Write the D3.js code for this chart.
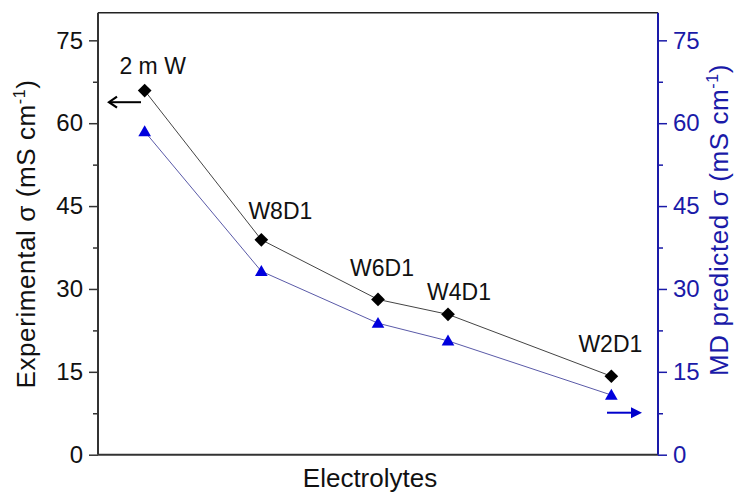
<!DOCTYPE html>
<html>
<head>
<meta charset="utf-8">
<script src="https://cdn.jsdelivr.net/npm/d3@7"></script>
<style>
  html, body { margin: 0; padding: 0; background: #fff; }
  svg { display: block; font-family: "Liberation Sans", Arial, sans-serif; }
</style>
</head>
<body>
<svg id="chart" width="741" height="495"></svg>
<script>
// Electrolyte compositions along the x axis (position in arbitrary units)
const electrolytes = ["2 m W", "W8D1", "W6D1", "W4D1", "W2D1"];
const xPos = [1, 2, 3, 3.6, 5];
// Measured conductivity (mS cm-1)
const experimental = [65.9, 38.9, 28.1, 25.4, 14.2];
// MD predicted conductivity (mS cm-1)
const predicted = [58.5, 33.2, 23.8, 20.6, 10.8];
const yTicks = [0, 15, 30, 45, 60, 75];
const yMinor = [7.5, 22.5, 37.5, 52.5, 67.5];

const svg = d3.select("#chart");
const m = { left: 98, right: 658, top: 12.7, bottom: 454.7 };
const blue = "#1a1aa8";

const x = d3.scaleLinear().domain([0.6, 5.4]).range([m.left, m.right]);
const y = d3.scaleLinear().domain([0, 80]).range([m.bottom, m.top]);

// frame: top and bottom edges
svg.append("line").attr("x1", m.left).attr("x2", m.right).attr("y1", m.top).attr("y2", m.top)
  .attr("stroke", "#222").attr("stroke-width", 1.5);
svg.append("line").attr("x1", m.left).attr("x2", m.right).attr("y1", m.bottom).attr("y2", m.bottom)
  .attr("stroke", "#333").attr("stroke-width", 2);

// left axis
const gl = svg.append("g").attr("transform", `translate(${m.left},0)`)
  .call(d3.axisLeft(y).tickValues(yTicks).tickSize(9).tickPadding(6));
gl.append("g").call(d3.axisLeft(y).tickValues(yMinor).tickSize(5).tickFormat(""));
gl.selectAll(".domain").remove();
gl.selectAll("line").attr("stroke", "#333").attr("stroke-width", 1.5);
gl.selectAll("text").attr("font-size", 24).attr("fill", "#111").attr("font-family", "Liberation Sans, Arial, sans-serif");
svg.append("line").attr("x1", m.left).attr("x2", m.left).attr("y1", m.top).attr("y2", m.bottom)
  .attr("stroke", "#333").attr("stroke-width", 2);

// right axis
const gr = svg.append("g").attr("transform", `translate(${m.right},0)`)
  .call(d3.axisRight(y).tickValues(yTicks).tickSize(9).tickPadding(6));
gr.append("g").call(d3.axisRight(y).tickValues(yMinor).tickSize(5).tickFormat(""));
gr.selectAll(".domain").remove();
gr.selectAll("line").attr("stroke", blue).attr("stroke-width", 1.5);
gr.selectAll("text").attr("font-size", 24).attr("fill", blue).attr("font-family", "Liberation Sans, Arial, sans-serif");
svg.append("line").attr("x1", m.right).attr("x2", m.right).attr("y1", m.top).attr("y2", m.bottom)
  .attr("stroke", blue).attr("stroke-width", 2);

// axis titles
function titleWithSup(sel, main) {
  sel.append("tspan").text(main + " (mS cm");
  sel.append("tspan").text("-1").attr("font-size", 16).attr("dy", -10);
  sel.append("tspan").text(")").attr("dy", 10);
}
const tl = svg.append("text").attr("transform", `translate(35,234) rotate(-90)`)
  .attr("text-anchor", "middle").attr("font-size", 26).attr("letter-spacing", 0.6).attr("fill", "#111");
titleWithSup(tl, "Experimental σ");
const tr = svg.append("text").attr("transform", `translate(728,220) rotate(-90)`)
  .attr("text-anchor", "middle").attr("font-size", 26).attr("letter-spacing", 0.6).attr("fill", blue);
titleWithSup(tr, "MD predicted σ");

svg.append("text").attr("x", 370).attr("y", 487).attr("text-anchor", "middle")
  .attr("font-size", 26).attr("fill", "#111").text("Electrolytes");

// series lines
const pts = (vals) => xPos.map((xv, i) => [x(xv), y(vals[i])]);
svg.append("path").attr("d", d3.line()(pts(experimental)))
  .attr("fill", "none").attr("stroke", "#444").attr("stroke-width", 1);
svg.append("path").attr("d", d3.line()(pts(predicted)))
  .attr("fill", "none").attr("stroke", "#5a5aa8").attr("stroke-width", 1);

// markers
svg.selectAll(".dia").data(experimental).join("path")
  .attr("d", d3.symbol(d3.symbolDiamond2, 120)())
  .attr("transform", (d, i) => `translate(${x(xPos[i])},${y(d)})`)
  .attr("fill", "#000");
svg.selectAll(".tri").data(predicted).join("path")
  .attr("d", d3.symbol(d3.symbolTriangle2, 115)())
  .attr("transform", (d, i) => `translate(${x(xPos[i])},${y(d) + 1})`)
  .attr("fill", "#0000dd");

// point labels
const labelDx = [8, 19, 4, 11, -1];
const labelDy = [-17, -21, -23, -14, -24];
svg.selectAll(".lbl").data(electrolytes).join("text")
  .attr("x", (d, i) => x(xPos[i]) + labelDx[i])
  .attr("y", (d, i) => y(experimental[i]) + labelDy[i])
  .attr("text-anchor", "middle").attr("font-size", 23).attr("fill", "#111")
  .text(d => d);

// arrows pointing each series to its own axis
const ya = y(63.8);
svg.append("line").attr("x1", 141).attr("x2", 109).attr("y1", ya).attr("y2", ya)
  .attr("stroke", "#000").attr("stroke-width", 2);
svg.append("path").attr("d", `M117,${ya - 5.5} L109,${ya} L117,${ya + 5.5}`)
  .attr("fill", "none").attr("stroke", "#000").attr("stroke-width", 2.2);
const yb = y(7.6);
svg.append("line").attr("x1", 607).attr("x2", 634).attr("y1", yb).attr("y2", yb)
  .attr("stroke", "#0000cc").attr("stroke-width", 2);
svg.append("path").attr("d", `M631,${yb - 5.5} L642,${yb} L631,${yb + 5.5} Z`)
  .attr("fill", "#0000cc");
</script>
</body>
</html>
